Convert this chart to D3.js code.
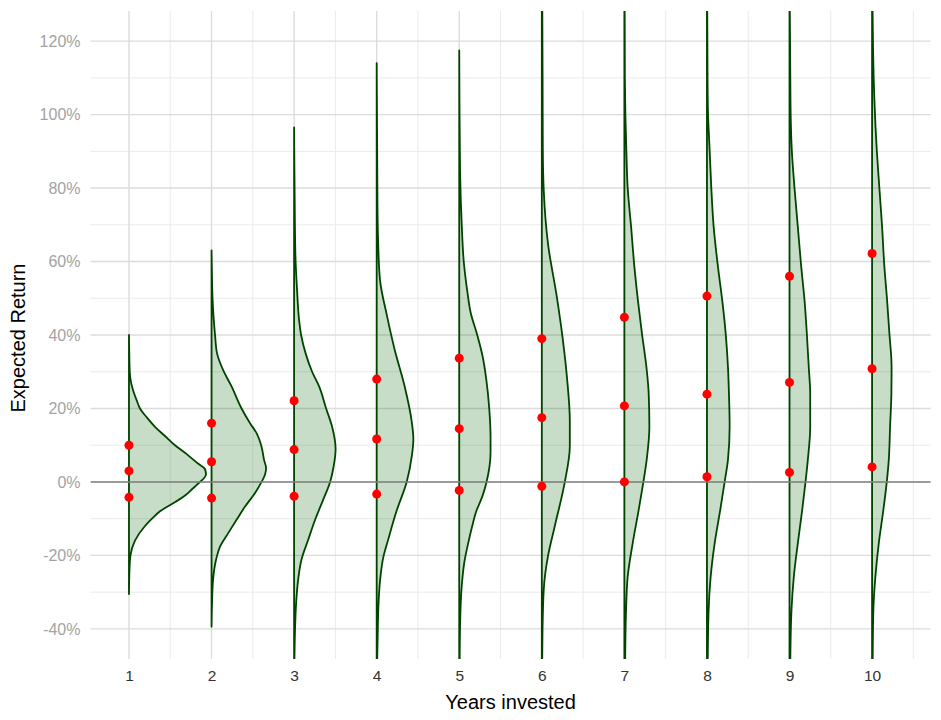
<!DOCTYPE html>
<html>
<head>
<meta charset="utf-8">
<title>Expected Return by Years invested</title>
<script src="https://cdn.jsdelivr.net/npm/d3@7"></script>
<style>
  body { margin: 0; background: #fff; }
  text { font-family: "Liberation Sans", Arial, sans-serif; }
</style>
</head>
<body>
<svg width="941" height="720" id="mainsvg"></svg>
<script>
// years on the x axis
const years = [1, 2, 3, 4, 5, 6, 7, 8, 9, 10];

// red points per year: upper, middle, lower (% return)
const upperPts = [10, 16, 22.1, 28, 33.7, 39, 44.8, 50.6, 56, 62.2];
const midPts   = [3, 5.5, 8.8, 11.7, 14.5, 17.5, 20.7, 23.9, 27.1, 30.8];
const lowPts   = [-4.2, -4.4, -3.9, -3.3, -2.3, -1.2, 0, 1.4, 2.6, 4.1];

// density profiles: [return %, density]
const dens1 = [[40,0],[35,0.3],[30,0.8],[28,1.5],[25,4],[22,8],[20,11],[17.5,18],[15,26],[12.5,36],[10,46],[7.5,58],[5,69],[3.5,76],[2,77],[1,75],[0,71],[-1,67],[-2,63],[-3.5,57],[-5,49],[-8,31],[-10,23],[-12,16],[-16,6],[-20,1.5],[-24,0.5],[-30.5,0]];
const dens2 = [[63,0],[55,0.5],[50,1],[45,2],[40,3.5],[35,5.5],[30.5,11.5],[26,20],[20,30],[16,38.5],[13.3,45],[9.6,50],[6,52.5],[3.8,54.5],[2,53.5],[0,50],[-3,43.5],[-6.7,33.5],[-10.3,25],[-14,16.5],[-17.6,8.5],[-21.2,4.5],[-26.7,1.5],[-33,0.5],[-39.4,0]];
const dens3 = [[96.5,0],[85,0.3],[70,0.8],[60,1.5],[52,3],[44,5],[40,7],[35,11.5],[30,18],[26,25],[20,32],[15,38],[9,41.5],[4.2,39.5],[0,36],[-4.9,29],[-10.3,21],[-15.8,14],[-21,7.5],[-26.7,4],[-33,2],[-39.5,1],[-48.5,0.3]];
const dens4 = [[114,0],[100,0.3],[90,0.5],[75,0.8],[65,1.5],[55,3.3],[45.6,10],[36,18],[26,28],[16.5,35],[11.6,36.7],[6.8,35],[0,30],[-7.8,20],[-15.5,11.7],[-20.4,6.7],[-27,3.3],[-34,1.7],[-42,1],[-48.5,0.5]];
const dens5 = [[117.5,0],[100,0.3],[85,0.8],[77,1.5],[70,2.5],[60,4.5],[52,8],[46,11.5],[40,18],[34,23.5],[28,27],[20,30],[12,31.3],[8,31.3],[0,27.3],[-4,23],[-8,17],[-12,13],[-16,9.5],[-22,5],[-29,2.3],[-37,1],[-48.5,0.4]];
const dens6 = [[128.5,0.5],[110,0.8],[91,1],[79,2],[64.6,6.3],[50.9,14.7],[39.4,20.7],[28,25.3],[16.6,28],[9.7,28],[0,23],[-12,13],[-20,6.3],[-29,2],[-40.6,0.7],[-48.5,0.4]];
const dens7 = [[128.5,0.3],[110,0.5],[100,1],[90,2],[80,3.3],[69.5,6.7],[58.6,10],[49.5,13.5],[40.5,17.5],[31.4,22],[24.1,24.3],[15,25],[6,22.3],[0,19],[-7.6,14.3],[-16.7,8.3],[-25.8,3.3],[-34.8,1.7],[-48.5,0.8]];
const dens8 = [[128.5,0.3],[110,0.6],[101,1],[90.3,2.7],[80.4,4.3],[69.5,6.7],[58.6,11],[49.4,15.3],[40.5,18.7],[31.4,21],[24.1,22],[15,22.7],[6,21],[0,17.7],[-7.6,13.3],[-16.7,7.7],[-25.8,3.7],[-34.8,1.7],[-48.5,0.8]];
const dens9 = [[128.5,0.3],[110,0.8],[99.4,1.2],[90.3,2.3],[80,5],[69.5,8.3],[58.6,11.7],[49.5,15],[40.5,17.3],[31,19.3],[24.1,20.7],[15,20.7],[6,18.3],[0,16],[-7.6,12.7],[-16.7,8.3],[-25.8,4.3],[-34.8,2],[-48.5,0.8]];
const dens10 = [[128.5,0.5],[117.5,1],[104,2.3],[90.3,4.7],[80,7.3],[69.5,10],[58.6,12.3],[49.5,15],[40.5,17.3],[31.4,19.5],[24.1,19.3],[15,18],[6,16.7],[0,14.7],[-7.6,11.3],[-16.7,6.7],[-25.8,3.3],[-34.8,1.3],[-48.5,0.6]];
const densities = [dens1, dens2, dens3, dens4, dens5, dens6, dens7, dens8, dens9, dens10];

const yTicks = [-40, -20, 0, 20, 40, 60, 80, 100, 120];
const yMinor = [-30, -10, 10, 30, 50, 70, 90, 110];
const xMinor = [1.5, 2.5, 3.5, 4.5, 5.5, 6.5, 7.5, 8.5, 9.5, 10.5];

const svg = d3.select('#mainsvg');
const width = +svg.attr('width');
const height = +svg.attr('height');
const margin = { top: 11, right: 10.3, bottom: 61, left: 90.5 };
const innerW = width - margin.left - margin.right;
const innerH = height - margin.top - margin.bottom;

const x = d3.scaleLinear().domain([0.534, 10.71]).range([0, innerW]);
const y = d3.scaleLinear().domain([-48.2, 128.2]).range([innerH, 0]);
const dw = d3.scaleLinear().domain([0, 100]).range([0, 1.2114]); // density -> x units

const g = svg.append('g').attr('transform', `translate(${margin.left},${margin.top})`);

svg.append('defs').append('clipPath').attr('id', 'panel')
  .append('rect').attr('width', innerW).attr('height', innerH);

// grid
const grid = g.append('g');
grid.selectAll('.ymin').data(yMinor).join('line')
  .attr('x1', 0).attr('x2', innerW).attr('y1', d => y(d)).attr('y2', d => y(d))
  .attr('stroke', '#ebebeb').attr('stroke-width', 1);
grid.selectAll('.xmin').data(xMinor).join('line')
  .attr('y1', 0).attr('y2', innerH).attr('x1', d => x(d)).attr('x2', d => x(d))
  .attr('stroke', '#ebebeb').attr('stroke-width', 1);
grid.selectAll('.ymaj').data(yTicks).join('line')
  .attr('x1', 0).attr('x2', innerW).attr('y1', d => y(d)).attr('y2', d => y(d))
  .attr('stroke', '#dcdcdc').attr('stroke-width', 1.4);
grid.selectAll('.xmaj').data(years).join('line')
  .attr('y1', 0).attr('y2', innerH).attr('x1', d => x(d)).attr('x2', d => x(d))
  .attr('stroke', '#dcdcdc').attr('stroke-width', 1.4);

// half violins
const plot = g.append('g').attr('clip-path', 'url(#panel)');
years.forEach((yr, i) => {
  const area = d3.area()
    .y(d => y(d[0]))
    .x0(x(yr))
    .x1(d => x(yr + dw(d[1])))
    .curve(d3.curveMonotoneY);
  plot.append('path')
    .attr('d', area(densities[i]))
    .attr('fill', 'rgba(0,100,0,0.22)')
    .attr('stroke', '#004400')
    .attr('stroke-width', 1.8)
    .attr('stroke-linejoin', 'round');
});

// zero line
plot.append('line')
  .attr('x1', 0).attr('x2', innerW).attr('y1', y(0)).attr('y2', y(0))
  .attr('stroke', '#808080').attr('stroke-width', 1.6);

// red points
const pts = [];
years.forEach((yr, i) => {
  pts.push([yr, upperPts[i]], [yr, midPts[i]], [yr, lowPts[i]]);
});
plot.selectAll('circle').data(pts).join('circle')
  .attr('cx', d => x(d[0])).attr('cy', d => y(d[1])).attr('r', 4.5)
  .attr('fill', '#ff0000');

// axes
const yAxis = g.append('g').call(d3.axisLeft(y).tickValues(yTicks).tickSize(0).tickPadding(10).tickFormat(d => d + '%'));
yAxis.select('.domain').remove();
yAxis.selectAll('text').attr('fill', '#a3a3a3').style('font-size', '16px');

const xAxis = g.append('g').attr('transform', `translate(0,${innerH})`)
  .call(d3.axisBottom(x).tickValues(years).tickSize(0).tickPadding(11).tickFormat(d3.format('d')));
xAxis.select('.domain').remove();
xAxis.selectAll('text').attr('fill', '#333333').style('font-size', '15.5px');

// axis titles
svg.append('text')
  .attr('x', margin.left + innerW / 2).attr('y', 709)
  .attr('text-anchor', 'middle').style('font-size', '20px').attr('fill', '#000')
  .text('Years invested');
svg.append('text')
  .attr('transform', `translate(25,${margin.top + innerH / 2 + 3}) rotate(-90)`)
  .attr('text-anchor', 'middle').style('font-size', '20px').attr('fill', '#000')
  .text('Expected Return');
</script>
</body>
</html>
